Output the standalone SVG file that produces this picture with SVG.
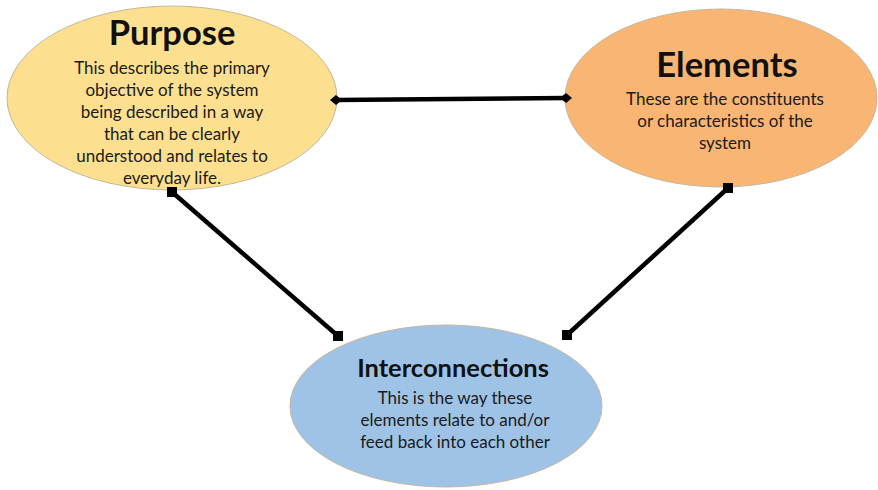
<svg xmlns="http://www.w3.org/2000/svg" width="878" height="490" viewBox="0 0 878 490">
  <style>
    .node ellipse { stroke: #c4b89c; stroke-width: 1; }
    .title { font-family: Lato, "Open Sans", sans-serif; font-weight: bold; fill: #111; text-anchor: middle; }
    .body { font-family: Lato, "Open Sans", sans-serif; font-size: 17px; fill: #1a1a1a; text-anchor: middle; }
    .link { stroke: #000; stroke-width: 4.5; fill: none; }
  </style>
  <defs>
    <marker id="diamond" viewBox="-6 -6 12 12" markerWidth="12" markerHeight="12" markerUnits="userSpaceOnUse" orient="auto">
      <path d="M-6 0 L0 -5 L6 0 L0 5 Z" fill="#000"/>
    </marker>
    <marker id="square" viewBox="-5 -5 10 10" markerWidth="10" markerHeight="10" markerUnits="userSpaceOnUse" orient="0">
      <rect x="-5" y="-5" width="10" height="10" fill="#000"/>
    </marker>
  </defs>
  <rect width="878" height="490" fill="#fff"/>

  <g id="node-purpose" class="node">
    <ellipse cx="172" cy="98" rx="165" ry="92" fill="#fce08f"/>
    <text class="title" x="172" y="45" font-size="34.5">Purpose</text>
    <text class="body" x="172" y="74">This describes the primary</text>
    <text class="body" x="172" y="96">objective of the system</text>
    <text class="body" x="172" y="118">being described in a way</text>
    <text class="body" x="172" y="140">that can be clearly</text>
    <text class="body" x="172" y="162">understood and relates to</text>
    <text class="body" x="172" y="184">everyday life.</text>
  </g>

  <g id="node-elements" class="node">
    <ellipse cx="721" cy="98" rx="156" ry="89" fill="#f8b574"/>
    <text class="title" x="727" y="77" font-size="34.5">Elements</text>
    <text class="body" x="725" y="105">These are the constituents</text>
    <text class="body" x="725" y="127">or characteristics of the</text>
    <text class="body" x="725" y="149">system</text>
  </g>

  <g id="node-interconnections" class="node">
    <ellipse cx="446" cy="406" rx="156" ry="81" fill="#9fc3e7"/>
    <text class="title" x="453" y="377" font-size="25.5">Interconnections</text>
    <text class="body" x="455" y="404" font-size="18">This is the way these</text>
    <text class="body" x="455" y="426" font-size="18">elements relate to and/or</text>
    <text class="body" x="455" y="448" font-size="18">feed back into each other</text>
  </g>

  <g id="connectors">
    <line class="link" x1="336" y1="100" x2="566" y2="98" marker-start="url(#diamond)" marker-end="url(#diamond)"/>
    <line class="link" x1="172" y1="192" x2="338" y2="336" marker-start="url(#square)" marker-end="url(#square)"/>
    <line class="link" x1="728" y1="188" x2="567" y2="335" marker-start="url(#square)" marker-end="url(#square)"/>
  </g>
</svg>
